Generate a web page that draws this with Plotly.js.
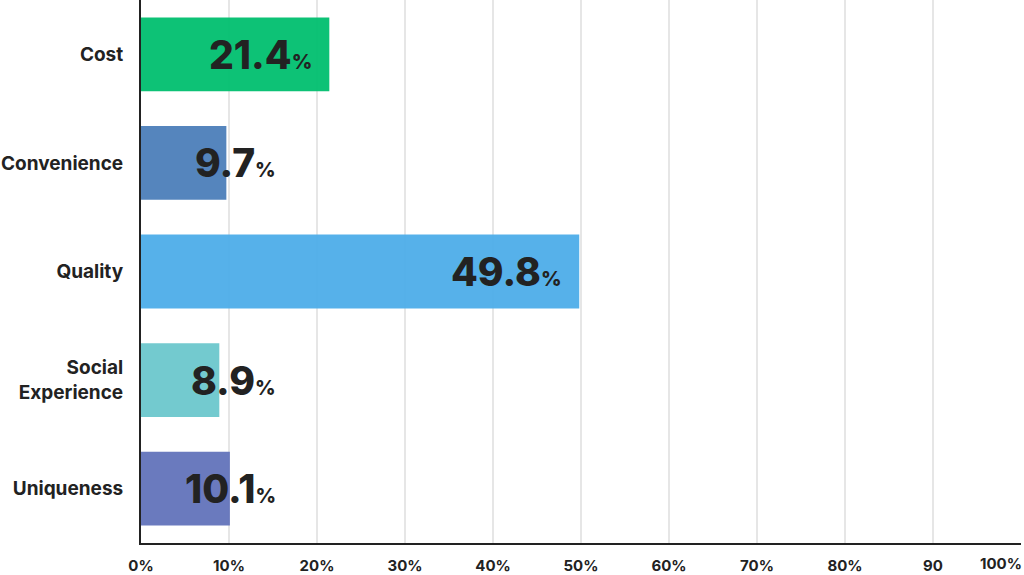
<!DOCTYPE html>
<html><head><meta charset="utf-8">
<script src="https://cdn.plot.ly/plotly-3.0.1.min.js"></script>
<style>html,body{margin:0;padding:0;background:#fff}#chart{width:1024px;height:575px}</style>
</head><body><div id="chart"></div>
<script>
const categories = ["Cost", "Convenience", "Quality", "Social<br>Experience", "Uniqueness"];
const values = [21.4, 9.7, 49.8, 8.9, 10.1];
const colors = ["#00BF6F", "#4C7EB9", "#4DADE9", "#6CC7CC", "#6273BA"];
const tickVals = [0, 10, 20, 30, 40, 50, 60, 70, 80, 90, 100];
const tickText = ["0%", "10%", "20%", "30%", "40%", "50%", "60%", "70%", "80%", "90", "100%"];

const FONT = "Inter, 'Open Sans', Roboto, sans-serif";
const minLabelX = 17.3;

const trace = {
  type: "bar", orientation: "h",
  x: values, y: categories,
  width: 0.68,
  marker: {color: colors, opacity: 0.95, line: {width: 0}},
  hoverinfo: "skip"
};

const annotations = values.map((v, i) => ({
  x: Math.max(v, minLabelX), y: categories[i],
  xref: "x", yref: "y", xanchor: "right", yanchor: "middle",
  xshift: -15, yshift: 0,
  showarrow: false,
  text: v.toFixed(1) + "<span style='font-size:20px'>%</span>",
  font: {family: FONT, size: 39, color: "#222222", weight: 800}
}));
annotations.push({
  x: 100, y: 0, xref: "x", yref: "paper", xanchor: "right", yanchor: "middle",
  xshift: 3, yshift: -20, showarrow: false, text: tickText[tickText.length - 1],
  font: {family: FONT, size: 15, color: "#222222", weight: 700}
});

const layout = {
  width: 1024, height: 575,
  margin: {l: 141, r: 3, t: 0, b: 32},
  paper_bgcolor: "#ffffff", plot_bgcolor: "#ffffff",
  showlegend: false,
  xaxis: {
    range: [0, 100], tickvals: tickVals,
    ticktext: tickText.map((t, i) => i === tickText.length - 1 ? "" : t),
    showgrid: true, gridcolor: "#e6e6e6", gridwidth: 1.5,
    showline: true, linecolor: "#222222", linewidth: 2,
    zeroline: false, ticks: "", ticklabelstandoff: 8,
    tickfont: {family: FONT, size: 15, color: "#222222", weight: 700},
    fixedrange: true
  },
  yaxis: {
    range: [4.5, -0.5], showgrid: false,
    showline: true, linecolor: "#222222", linewidth: 2,
    zeroline: false, ticks: "", ticklabelstandoff: 12,
    tickfont: {family: FONT, size: 19, color: "#222222", weight: 700},
    fixedrange: true
  },
  annotations: annotations
};

Plotly.newPlot("chart", [trace], layout, {displayModeBar: false, staticPlot: true});
</script></body></html>
